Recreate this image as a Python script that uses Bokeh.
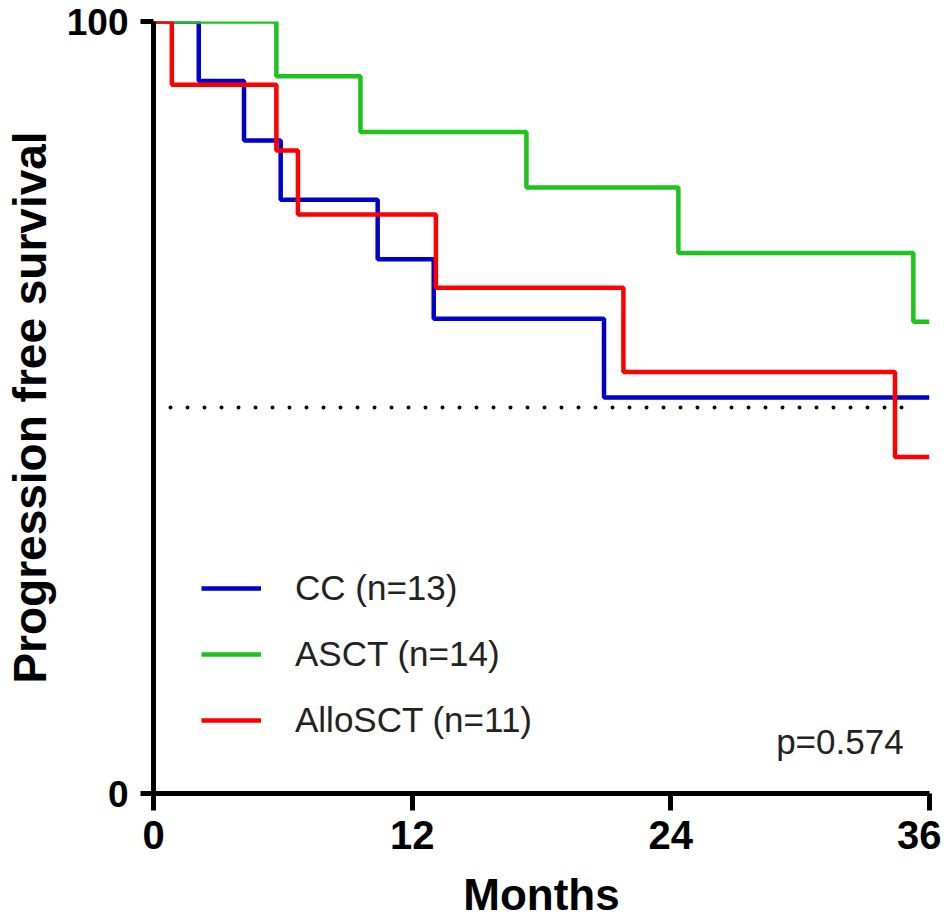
from bokeh.plotting import figure
from bokeh.models import Range1d, FixedTicker, Legend, LegendItem, Label
from bokeh.embed import file_html
from bokeh.resources import INLINE

# ---- data ----
cc_months = [0, 2.1, 4.2, 5.9, 10.4, 13.0, 20.9, 36]
cc_pfs = [100, 92.3, 84.6, 76.9, 69.2, 61.5, 51.3, 51.3]

asct_months = [0, 5.7, 9.6, 17.3, 24.35, 35.25, 36]
asct_pfs = [100, 92.9, 85.7, 78.5, 70.0, 61.1, 61.1]

allo_months = [0, 0.85, 5.7, 6.7, 13.1, 21.8, 34.4, 36]
allo_pfs = [100, 91.8, 83.3, 75.0, 65.5, 54.6, 43.6, 43.6]

series_labels = ["CC (n=13)", "ASCT (n=14)", "AlloSCT (n=11)"]
series_colors = ["#0000cc", "#1ec31e", "#ff0000"]

x_ticks = [0, 12, 24, 36]
y_ticks = [0, 100]
median_level = 50
median_x = [0, 35.4]
p_text = "p=0.574"

FONT = "Liberation Sans"

p = figure(
    width=932, height=905,
    frame_width=776, frame_height=772,
    x_range=Range1d(0, 36), y_range=Range1d(0, 100),
    output_backend="svg", toolbar_location=None,
    min_border_left=144, min_border_top=21, min_border_right=12, min_border_bottom=5,
)
p.outline_line_color = None
p.grid.visible = False
p.background_fill_color = "white"

# median reference line
p.line(median_x, [median_level, median_level], line_color="black",
       line_width=4, line_dash="0 17", line_cap="round")

renderers = []
for xs, ys, col in [(cc_months, cc_pfs, series_colors[0]),
                    (asct_months, asct_pfs, series_colors[1]),
                    (allo_months, allo_pfs, series_colors[2])]:
    r = p.step(xs, ys, mode="after", line_color=col, line_width=4.5)
    renderers.append(r)

legend = Legend(
    items=[LegendItem(label=l, renderers=[r]) for l, r in zip(series_labels, renderers)],
    location=(48, 53), orientation="vertical",
    padding=0, margin=0, spacing=26,
    glyph_width=60, glyph_height=40, label_height=40, label_standoff=34,
    label_text_font=FONT, label_text_font_size="35px", label_text_color="#222222",
    border_line_alpha=0, background_fill_alpha=0,
)
p.add_layout(legend, "center")

p.add_layout(Label(x=34.8, y=6.8, text=p_text, text_align="right",
                   text_baseline="alphabetic", text_font=FONT,
                   text_font_size="35px", text_color="#222222"))

for ax in (p.xaxis[0], p.yaxis[0]):
    ax.axis_line_width = 5
    ax.axis_line_color = "black"
    ax.major_tick_line_width = 5
    ax.major_tick_line_color = "black"
    ax.minor_tick_line_color = None
    ax.major_tick_in = 0
    ax.major_label_text_font = FONT
    ax.major_label_text_font_style = "bold"
    ax.major_label_text_color = "black"
    ax.axis_label_text_font = FONT
    ax.axis_label_text_font_style = "bold"
    ax.axis_label_text_color = "black"

p.xaxis.ticker = FixedTicker(ticks=x_ticks)
p.yaxis.ticker = FixedTicker(ticks=y_ticks)
p.xaxis.major_tick_out = 17
p.yaxis.major_tick_out = 13
p.xaxis.major_label_text_font_size = "40px"
p.yaxis.major_label_text_font_size = "37px"
p.xaxis.major_label_standoff = 10
p.yaxis.major_label_standoff = 12
p.xaxis.axis_label = "Months"
p.yaxis.axis_label = "Progression free survival"
p.xaxis.axis_label_text_font_size = "44px"
p.yaxis.axis_label_text_font_size = "46px"
p.xaxis.axis_label_standoff = 18
p.yaxis.axis_label_standoff = 8

open("out.html", "w").write(file_html(p, INLINE))
